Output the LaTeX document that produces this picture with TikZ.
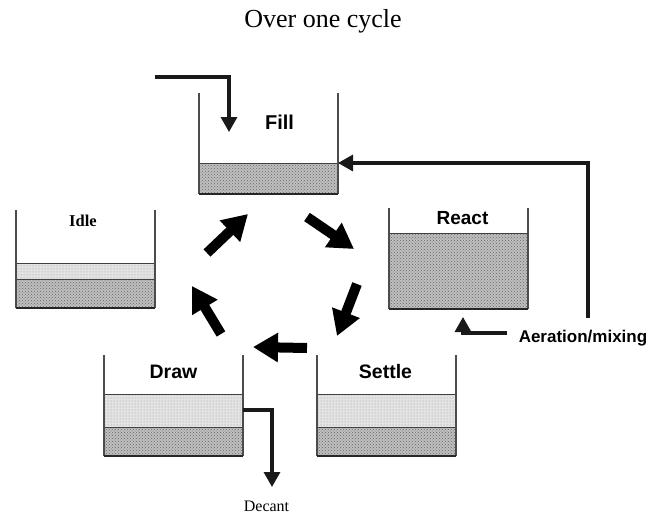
\documentclass[tikz,border=0pt]{standalone}
\usepackage{fontspec}
\setmainfont{Liberation Serif}
\newfontfamily\arialfont{Liberation Sans}
\usetikzlibrary{arrows.meta,patterns}
\begin{document}
\begin{tikzpicture}[x=1pt,y=-1pt,
  wall/.style={draw=black!70, line width=1.3pt},
  floorline/.style={draw=black!85, line width=1.8pt},
  dense/.style={fill=gray!50},
  densepat/.style={pattern=crosshatch dots, pattern color=black!60},
  light/.style={fill=gray!22},
  lightpat/.style={pattern=dots, pattern color=black!40},
  layerline/.style={draw=black!75, line width=1pt},
  pipe/.style={draw=black!90, line width=3.2pt, -{Triangle[width=16pt,length=15pt]}},
  fat/.style={draw=black, line width=10pt, -{Triangle[width=28pt,length=25pt]}},
  tanklabel/.style={font=\arialfont\bfseries\fontsize{19.5}{22}\selectfont, anchor=base},
]
\useasboundingbox (0,0) rectangle (649,515);

% ---------- title
\node[anchor=base, font=\fontsize{26}{30}\selectfont] (title) at (323,27) {Over one cycle};

% ---------- Fill tank
\fill[dense] (199,163) rectangle (338,194);
\fill[densepat] (199,163) rectangle (338,194);
\draw[layerline] (199,163) -- (338,163);
\draw[wall] (199,93) -- (199,194);
\draw[wall] (338,93) -- (338,194);
\draw[floorline] (199,194) -- (338,194);
\node[tanklabel, font=\arialfont\bfseries\fontsize{20}{22}\selectfont] (filllbl) at (279.5,129) {Fill};
\coordinate (fillin) at (338,163);
\coordinate (inlettip) at (229,132);
\coordinate (inletcorner) at (229,77);
\coordinate (inletstart) at (155,77);
\draw[pipe] (inletstart) -- (inletcorner) -- (inlettip);

% ---------- React tank
\fill[dense] (389,233) rectangle (528,309);
\fill[densepat] (389,233) rectangle (528,309);
\draw[layerline] (389,233) -- (528,233);
\draw[wall] (389,208) -- (389,309);
\draw[wall] (528,208) -- (528,309);
\draw[floorline] (389,309) -- (528,309);
\node[tanklabel, font=\arialfont\bfseries\fontsize{19}{22}\selectfont] (reactlbl) at (462.5,224) {React};

% ---------- Idle tank
\fill[light] (16,263) rectangle (155,279);
\fill[lightpat] (16,263) rectangle (155,279);
\fill[dense] (16,279) rectangle (155,308);
\fill[densepat] (16,279) rectangle (155,308);
\draw[layerline] (16,263) -- (155,263);
\draw[layerline] (16,279) -- (155,279);
\draw[wall] (16,210) -- (16,308);
\draw[wall] (155,210) -- (155,308);
\draw[floorline] (16,308) -- (155,308);
\node[anchor=base, font=\bfseries\fontsize{16.5}{18}\selectfont] (idlelbl) at (83,226) {Idle};

% ---------- Draw tank
\fill[light] (104,394) rectangle (243,427);
\fill[lightpat] (104,394) rectangle (243,427);
\fill[dense] (104,427) rectangle (243,456);
\fill[densepat] (104,427) rectangle (243,456);
\draw[layerline] (104,394) -- (243,394);
\draw[layerline] (104,427) -- (243,427);
\draw[wall] (104,355) -- (104,456);
\draw[wall] (243,355) -- (243,456);
\draw[floorline] (104,456) -- (243,456);
\node[tanklabel] (drawlbl) at (173.5,378) {Draw};

% ---------- Settle tank
\fill[light] (317,394) rectangle (456,427);
\fill[lightpat] (317,394) rectangle (456,427);
\fill[dense] (317,427) rectangle (456,456);
\fill[densepat] (317,427) rectangle (456,456);
\draw[layerline] (317,394) -- (456,394);
\draw[layerline] (317,427) -- (456,427);
\draw[wall] (317,355) -- (317,456);
\draw[wall] (456,355) -- (456,456);
\draw[floorline] (317,456) -- (456,456);
\node[tanklabel] (settlelbl) at (385.5,378) {Settle};

% ---------- return line to Fill
\coordinate (retbottom) at (588,318);
\coordinate (rettop) at (588,163);
\draw[pipe] (retbottom) -- (rettop) -- (fillin);

% ---------- aeration
\node[anchor=base, font=\arialfont\bfseries\fontsize{17}{20}\selectfont] (aer) at (583,342) {Aeration/mixing};
\coordinate (aerstart) at (507,333);
\coordinate (aercorner) at (463,333);
\coordinate (aertip) at (463,317);
\draw[pipe] (aerstart) -- (aercorner) -- (aertip);

% ---------- decant
\coordinate (decstart) at (243,410);
\coordinate (deccorner) at (272,410);
\coordinate (dectip) at (272,487);
\draw[pipe] (decstart) -- (deccorner) -- (dectip);
\node[anchor=base, font=\fontsize{16}{18}\selectfont] (decant) at (266.5,511) {Decant};

% ---------- cycle arrows
\coordinate (a1s) at (207,253); \coordinate (a1e) at (248,214);
\coordinate (a2s) at (307,217); \coordinate (a2e) at (354,249);
\coordinate (a3s) at (357,284); \coordinate (a3e) at (337,336);
\coordinate (a4s) at (307,348); \coordinate (a4e) at (253,347);
\coordinate (a5s) at (221,334); \coordinate (a5e) at (192,286);
\draw[fat] (a1s) -- (a1e);
\draw[fat] (a2s) -- (a2e);
\draw[fat] (a3s) -- (a3e);
\draw[fat] (a4s) -- (a4e);
\draw[fat] (a5s) -- (a5e);
\end{tikzpicture}
\end{document}
